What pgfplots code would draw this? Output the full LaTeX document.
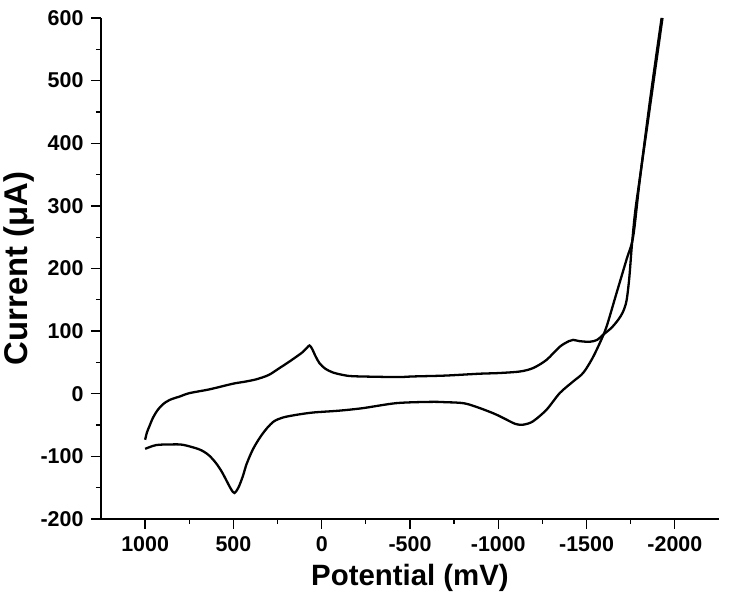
\documentclass[border=0pt]{standalone}
\usepackage{fontspec}
\setmainfont{Liberation Sans}
\usepackage{pgfplots}
\pgfplotsset{compat=1.18}

\begin{document}
\begin{tikzpicture}
\begin{axis}[
    scale only axis,
    width=618bp, height=501bp,
    x dir=reverse,
    xmin=-2250, xmax=1250,
    ymin=-200, ymax=600,
    axis x line*=bottom, axis y line*=left,
    axis line style={line width=1.5pt, -},
    xtick={-2000,-1500,...,1000},
    ytick={-200,-100,...,600},
    minor x tick num=1, minor y tick num=1,
    tick align=outside,
    major tick length=10bp, minor tick length=5bp,
    every tick/.style={black, line width=1.3pt},
    /pgf/number format/assume math mode=true,
    /pgf/number format/1000 sep={},
    ticklabel style={font=\fontsize{21.5}{24}\selectfont\bfseries},
    xticklabel style={yshift=-4bp},
    yticklabel style={xshift=-4bp},
    xlabel={Potential (mV)},
    ylabel={Current (μA)},
    xlabel style={font=\fontsize{29.5}{32}\selectfont\bfseries, yshift=-6bp},
    ylabel style={font=\fontsize{33}{36}\selectfont\bfseries, yshift=-1bp},
    clip=false,
]
\addplot[black, line width=2.3pt, smooth, tension=0.5] coordinates {
    (1000,-73.5) (990,-62) (976,-52) (955,-38) (929,-26) (900,-17)
    (862,-10) (800,-4) (749,1) (636,7) (503,16) (440,19) (371,23)
    (300,30) (239,41) (190,50) (144,59) (110,66) (85,73) (69,77)
    (55,72) (35,60) (13,49) (-20,40) (-63,34) (-120,30) (-175,28)
    (-328,27) (-441,26.6) (-517,27.6) (-700,29) (-895,32) (-1000,33)
    (-1122,35.5) (-1197,41) (-1273,54) (-1348,75) (-1400,84) (-1424,86)
    (-1460,84) (-1518,83) (-1560,86) (-1593,94) (-1640,105) (-1679,118)
    (-1705,130) (-1726,148) (-1742,185) (-1756,235) (-1775,290)
    (-1802,345) (-1850,440) (-1900,540) (-1930,600)
};
\addplot[black, line width=2.3pt, smooth, tension=0.5] coordinates {
    (-1925,600) (-1860,470) (-1800,338) (-1764,251) (-1726,214)
    (-1669,160) (-1613,107) (-1575,81) (-1530,55) (-1480,33)
    (-1424,19.6) (-1348,1) (-1273,-25.6) (-1197,-44) (-1150,-49)
    (-1122,-49.5) (-1095,-48) (-1065,-44) (-970,-31) (-819,-16)
    (-700,-13.5) (-612,-13) (-423,-15) (-233,-23) (-100,-27) (50,-30)
    (150,-34) (220,-38) (270,-44) (310,-55) (350,-70) (390,-89) (425,-112)
    (447,-132) (472,-150) (494,-158.5) (512,-153) (532,-142.6) (565,-125)
    (598,-111) (640,-98) (692,-89) (787,-81.5) (860,-81) (938,-82) (1000,-88)
};
\end{axis}
\path ([shift={(-101bp,-81bp)}]current axis.south west)
    rectangle ([shift={(10bp,18bp)}]current axis.north east);
\end{tikzpicture}
\end{document}
